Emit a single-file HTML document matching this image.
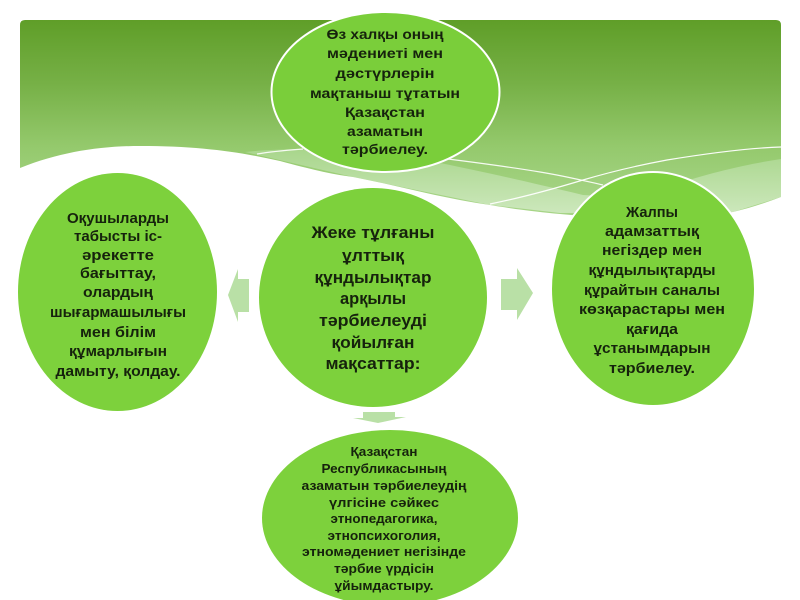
<!DOCTYPE html>
<html><head><meta charset="utf-8"><style>
html,body{margin:0;padding:0;background:#fff;width:800px;height:600px;overflow:hidden}
svg{display:block}
text{font-family:"Liberation Sans","DejaVu Sans",sans-serif;font-weight:bold;fill:#14240a;text-anchor:middle}
</style></head><body>
<svg width="800" height="600" viewBox="0 0 800 600" xmlns="http://www.w3.org/2000/svg">
<defs>
<linearGradient id="g" gradientUnits="userSpaceOnUse" x1="0" y1="20" x2="0" y2="200"><stop offset="0" stop-color="#5f9e28"/><stop offset=".35" stop-color="#76b046"/><stop offset=".7" stop-color="#94c96c"/><stop offset="1" stop-color="#a6d486"/></linearGradient>
<linearGradient id="l" gradientUnits="userSpaceOnUse" x1="0" y1="150" x2="0" y2="215"><stop offset="0" stop-color="#a9d68c"/><stop offset="1" stop-color="#cde8bd"/></linearGradient>
<filter id="b" x="-5%" y="-5%" width="110%" height="110%"><feGaussianBlur stdDeviation=".35"/></filter>
</defs>
<path d="M20 25Q20 20 25 20H776Q781 20 781 25V225H20Z" fill="url(#g)"/>
<path d="M245 152C300 146 380 150 440 163C480 171 520 180 583 195L640 198C660 188 720 168 781 159V197L733 212L560 213L490 205L353 177Z" fill="url(#l)"/>
<path d="M20 168C60 152 100 146 140 146C200 146 240 152 280 161C310 169 330 174 353 177C400 186 440 198 490 205C520 210 540 212 560 214C620 220 680 219 733 212C750 208 765 203 781 197V235H20Z" fill="#fff"/>
<path d="M257 154C275 151 290 150 303 149M440 158C480 163 510 167 540 172C565 176 585 181 603 185" fill="none" stroke="#fff" stroke-width="1.2" stroke-opacity=".9"/>
<path d="M490 204C520 198 550 190 583 180C610 172 640 165 667 160C710 153 750 148 781 147" fill="none" stroke="#fff" stroke-width="1.2" stroke-opacity=".95"/>
<g fill="#b9e0a6">
<path d="M228 295L238 269V279H249V312H238V322Z"/>
<path d="M533 293L517 268V279H501V310H517V320Z"/>
<path d="M353 418H363V412H395V417H406L378 423Z"/>
</g>
<g fill="#7dd13c">
<ellipse cx="385.500" cy="92" rx="114" ry="80" stroke="#fff" stroke-width="2" fill="#7ace3a"/>
<ellipse cx="117.500" cy="292" rx="99.500" ry="119"/>
<ellipse cx="653" cy="289" rx="102" ry="117" stroke="#fff" stroke-width="2"/>
<ellipse cx="373" cy="297.500" rx="114" ry="109.500"/>
<ellipse cx="390" cy="518" rx="128" ry="88"/>
</g>
<g filter="url(#b)">
<g font-size="14" lengthAdjust="spacingAndGlyphs">
<text x="385" y="39" textLength="117" lengthAdjust="spacingAndGlyphs">Өз халқы оның</text>
<text x="385" y="58" textLength="116" lengthAdjust="spacingAndGlyphs">мәдениеті мен</text>
<text x="385" y="78" textLength="99" lengthAdjust="spacingAndGlyphs">дәстүрлерін</text>
<text x="385" y="98" textLength="150" lengthAdjust="spacingAndGlyphs">мақтаныш тұтатын</text>
<text x="385" y="117" textLength="80" lengthAdjust="spacingAndGlyphs">Қазақстан</text>
<text x="385" y="136" textLength="76" lengthAdjust="spacingAndGlyphs">азаматын</text>
<text x="385" y="154" textLength="86" lengthAdjust="spacingAndGlyphs">тәрбиелеу.</text>
</g>
<g font-size="16.500">
<text x="373" y="238" textLength="123" lengthAdjust="spacingAndGlyphs">Жеке тұлғаны</text>
<text x="373" y="261" textLength="62" lengthAdjust="spacingAndGlyphs">ұлттық</text>
<text x="373" y="283" textLength="117" lengthAdjust="spacingAndGlyphs">құндылықтар</text>
<text x="373" y="304" textLength="66" lengthAdjust="spacingAndGlyphs">арқылы</text>
<text x="373" y="326" textLength="108" lengthAdjust="spacingAndGlyphs">тәрбиелеуді</text>
<text x="373" y="348" textLength="83" lengthAdjust="spacingAndGlyphs">қойылған</text>
<text x="373" y="369" textLength="95" lengthAdjust="spacingAndGlyphs">мақсаттар:</text>
</g>
<g font-size="14.500">
<text x="118" y="223" textLength="102" lengthAdjust="spacingAndGlyphs">Оқушыларды</text>
<text x="118" y="241" textLength="88" lengthAdjust="spacingAndGlyphs">табысты іс-</text>
<text x="118" y="260" textLength="72" lengthAdjust="spacingAndGlyphs">әрекетте</text>
<text x="118" y="278" textLength="76" lengthAdjust="spacingAndGlyphs">бағыттау,</text>
<text x="118" y="297" textLength="70" lengthAdjust="spacingAndGlyphs">олардың</text>
<text x="118" y="317" textLength="136" lengthAdjust="spacingAndGlyphs">шығармашылығы</text>
<text x="118" y="337" textLength="76" lengthAdjust="spacingAndGlyphs">мен білім</text>
<text x="118" y="356" textLength="98" lengthAdjust="spacingAndGlyphs">құмарлығын</text>
<text x="118" y="376" textLength="125" lengthAdjust="spacingAndGlyphs">дамыту, қолдау.</text>
</g>
<g font-size="14.500">
<text x="652" y="217" textLength="52" lengthAdjust="spacingAndGlyphs">Жалпы</text>
<text x="652" y="236" textLength="94" lengthAdjust="spacingAndGlyphs">адамзаттық</text>
<text x="652" y="255" textLength="100" lengthAdjust="spacingAndGlyphs">негіздер мен</text>
<text x="652" y="275" textLength="127" lengthAdjust="spacingAndGlyphs">құндылықтарды</text>
<text x="652" y="295" textLength="136" lengthAdjust="spacingAndGlyphs">құрайтын саналы</text>
<text x="652" y="314" textLength="146" lengthAdjust="spacingAndGlyphs">көзқарастары мен</text>
<text x="652" y="334" textLength="52" lengthAdjust="spacingAndGlyphs">қағида</text>
<text x="652" y="353" textLength="117" lengthAdjust="spacingAndGlyphs">ұстанымдарын</text>
<text x="652" y="373" textLength="86" lengthAdjust="spacingAndGlyphs">тәрбиелеу.</text>
</g>
<g font-size="13">
<text x="384" y="456" textLength="67" lengthAdjust="spacingAndGlyphs">Қазақстан</text>
<text x="384" y="473" textLength="125" lengthAdjust="spacingAndGlyphs">Республикасының</text>
<text x="384" y="490" textLength="165" lengthAdjust="spacingAndGlyphs">азаматын тәрбиелеудің</text>
<text x="384" y="507" textLength="110" lengthAdjust="spacingAndGlyphs">үлгісіне сәйкес</text>
<text x="384" y="523" textLength="107" lengthAdjust="spacingAndGlyphs">этнопедагогика,</text>
<text x="384" y="540" textLength="113" lengthAdjust="spacingAndGlyphs">этнопсихоголия,</text>
<text x="384" y="556" textLength="164" lengthAdjust="spacingAndGlyphs">этномәдениет негізінде</text>
<text x="384" y="573" textLength="100" lengthAdjust="spacingAndGlyphs">тәрбие үрдісін</text>
<text x="384" y="590" textLength="99" lengthAdjust="spacingAndGlyphs">ұйымдастыру.</text>
</g>
</g>
</svg>
</body></html>
